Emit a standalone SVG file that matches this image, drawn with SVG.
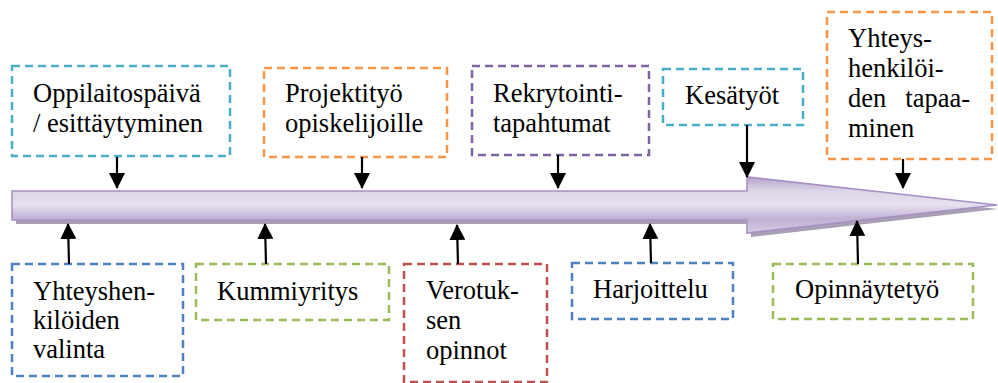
<svg xmlns="http://www.w3.org/2000/svg" width="998" height="383" viewBox="0 0 998 383">
  <style>
    .box { fill: #ffffff; stroke-width: 2.5; stroke-dasharray: 8 5; }
    .teal { stroke: #4bacc6; }
    .orange { stroke: #f79646; }
    .purple { stroke: #8064a2; }
    .blue { stroke: #4f81bd; }
    .green { stroke: #9bbb59; }
    .red { stroke: #c0504d; }
    .lbl { font-family: 'Liberation Serif', 'Times New Roman', Times, 'DejaVu Serif', 'Noto Serif', 'Tinos', serif; font-size: 26.5px; fill: #000000; }
    .conn line { stroke: #000000; stroke-width: 2.2; marker-end: url(#head); }
  </style>
  <defs>
    <marker id="head" markerUnits="userSpaceOnUse" markerWidth="16" markerHeight="16" viewBox="0 0 16 16" refX="15" refY="8" orient="auto">
      <path d="M0,0 L16,8 L0,16 Z" fill="#000000"/>
    </marker>
    <linearGradient id="band" x1="0" y1="177" x2="0" y2="233" gradientUnits="userSpaceOnUse">
      <stop offset="0" stop-color="#b4a2ca"/>
      <stop offset="0.25" stop-color="#ddd5e8"/>
      <stop offset="0.5" stop-color="#e6e1ef"/>
      <stop offset="0.75" stop-color="#bfb0d2"/>
      <stop offset="1" stop-color="#d6cce3"/>
    </linearGradient>
  </defs>

  <!-- timeline arrow -->
  <g id="timeline">
    <polygon points="16,195 751,195 751,181 999,209 751,237 751,224 16,224" fill="#a99fb4"/>
    <polygon points="12,191 747,191 747,177 997,205 747,233 747,220 12,220" fill="url(#band)" stroke="#a791c4" stroke-width="1.6"/>
  </g>

  <g class="lbl">
    <!-- upper boxes -->
    <g id="oppilaitospaiva">
      <rect class="box teal" x="12" y="66" width="218" height="90"/>
      <text x="33" y="102">Oppilaitospäivä</text>
      <text x="33" y="132">/ esittäytyminen</text>
    </g>
    <g id="projektityo">
      <rect class="box orange" x="264" y="68" width="183" height="89"/>
      <text x="285" y="102">Projektityö</text>
      <text x="285" y="132">opiskelijoille</text>
    </g>
    <g id="rekrytointi">
      <rect class="box purple" x="472" y="66" width="177" height="89"/>
      <text x="493" y="102">Rekrytointi-</text>
      <text x="493" y="132">tapahtumat</text>
    </g>
    <g id="kesatyot">
      <rect class="box teal" x="663" y="69" width="140" height="56"/>
      <text x="685" y="104">Kesätyöt</text>
    </g>
    <g id="tapaaminen">
      <rect class="box orange" x="827" y="12" width="165" height="147"/>
      <text x="848" y="47">Yhteys-</text>
      <text x="848" y="77">henkilöi-</text>
      <text x="848" y="107">den</text>
      <text x="970" y="107" text-anchor="end">tapaa-</text>
      <text x="848" y="137">minen</text>
    </g>

    <!-- lower boxes -->
    <g id="valinta">
      <rect class="box blue" x="12" y="264" width="171" height="112"/>
      <text x="33" y="300">Yhteyshen-</text>
      <text x="33" y="329">kilöiden</text>
      <text x="33" y="358">valinta</text>
    </g>
    <g id="kummiyritys">
      <rect class="box green" x="196" y="264" width="193" height="56"/>
      <text x="217" y="300">Kummiyritys</text>
    </g>
    <g id="verotus">
      <rect class="box red" x="404" y="264" width="143" height="118"/>
      <text x="426" y="299">Verotuk-</text>
      <text x="426" y="329">sen</text>
      <text x="426" y="359">opinnot</text>
    </g>
    <g id="harjoittelu">
      <rect class="box blue" x="572" y="263" width="161" height="56"/>
      <text x="593" y="298">Harjoittelu</text>
    </g>
    <g id="opinnaytetyo">
      <rect class="box green" x="773" y="264" width="200" height="55"/>
      <text x="795" y="298">Opinnäytetyö</text>
    </g>
  </g>

  <!-- connectors -->
  <g id="connectors" class="conn">
    <line x1="117" y1="157" x2="117" y2="188"/>
    <line x1="362" y1="157" x2="362" y2="188"/>
    <line x1="558" y1="155" x2="558" y2="188"/>
    <line x1="747" y1="125" x2="747" y2="177"/>
    <line x1="903" y1="159" x2="903" y2="188"/>
    <line x1="69" y1="264" x2="68" y2="224"/>
    <line x1="266" y1="264" x2="265" y2="224"/>
    <line x1="458" y1="264" x2="457" y2="225"/>
    <line x1="651" y1="263" x2="650" y2="224"/>
    <line x1="858" y1="264" x2="857" y2="221"/>
  </g>
</svg>
